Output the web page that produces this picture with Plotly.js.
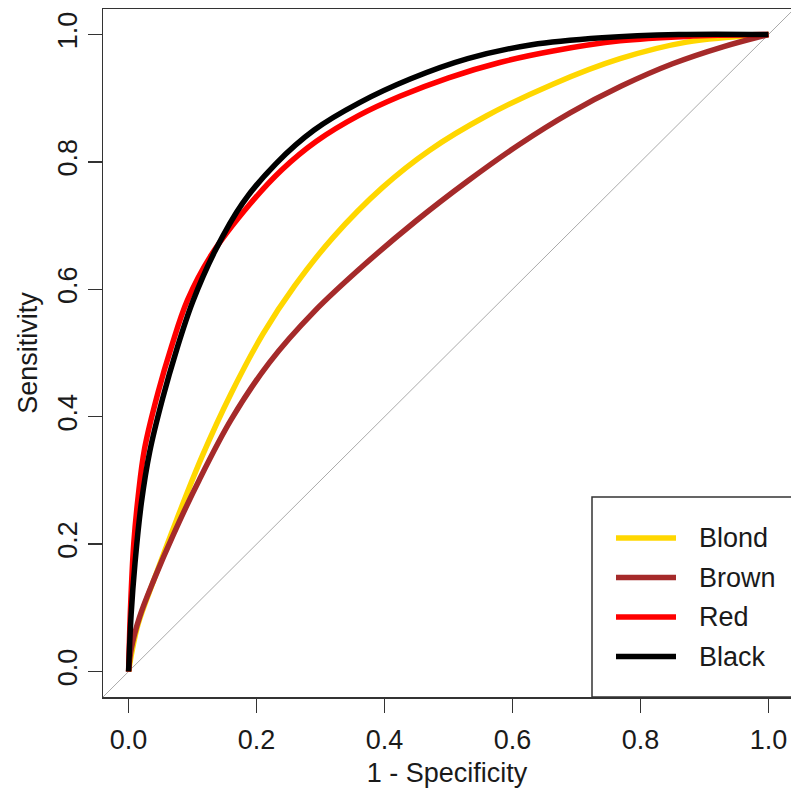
<!DOCTYPE html>
<html>
<head>
<meta charset="utf-8">
<script src="https://cdn.plot.ly/plotly-3.0.1.min.js"></script>
<style>html,body{margin:0;padding:0;background:#fff;}#chart{width:791px;height:792px;}</style>
</head>
<body>
<div id="chart"></div>
<script>
// ---- data ----
const seriesNames = ["Blond", "Brown", "Red", "Black"];
const seriesColors = ["#FFD700", "#A52A2A", "#FF0000", "#000000"];

const blondX = [0, 0.005, 0.015, 0.040, 0.075, 0.115, 0.160, 0.210, 0.260, 0.320, 0.397, 0.470, 0.559, 0.663, 0.768, 0.872, 1.0];
const blondY = [0, 0.030, 0.075, 0.145, 0.238, 0.338, 0.436, 0.530, 0.606, 0.682, 0.760, 0.818, 0.872, 0.922, 0.962, 0.988, 1.0];

const brownX = [0, 0.004, 0.017, 0.040, 0.070, 0.110, 0.160, 0.220, 0.290, 0.370, 0.450, 0.530, 0.610, 0.690, 0.770, 0.850, 0.930, 1.0];
const brownY = [0, 0.035, 0.085, 0.145, 0.215, 0.300, 0.395, 0.485, 0.565, 0.640, 0.708, 0.770, 0.827, 0.877, 0.919, 0.954, 0.981, 1.0];

const redX = [0, 0.003, 0.008, 0.015, 0.025, 0.046, 0.067, 0.092, 0.130, 0.189, 0.240, 0.293, 0.360, 0.424, 0.500, 0.580, 0.663, 0.768, 0.872, 1.0];
const redY = [0, 0.100, 0.200, 0.275, 0.350, 0.438, 0.510, 0.583, 0.655, 0.733, 0.788, 0.832, 0.873, 0.903, 0.932, 0.956, 0.974, 0.990, 0.997, 1.0];

const blackX = [0, 0.004, 0.010, 0.020, 0.033, 0.053, 0.075, 0.100, 0.135, 0.178, 0.230, 0.290, 0.361, 0.440, 0.530, 0.630, 0.740, 0.860, 1.0];
const blackY = [0, 0.090, 0.170, 0.265, 0.345, 0.428, 0.505, 0.580, 0.660, 0.735, 0.797, 0.850, 0.893, 0.930, 0.962, 0.984, 0.995, 1.0, 1.0];

const chanceLine = [-0.1, 1.1];
const tickVals = [0, 0.2, 0.4, 0.6, 0.8, 1.0];
const tickText = ["0.0", "0.2", "0.4", "0.6", "0.8", "1.0"];
const xTitle = "1 - Specificity";
const yTitle = "Sensitivity";

// ---- build ----
const FONT = "Liberation Sans, Arial, Helvetica, sans-serif";
const FS = 27;
const TXT = "#1a1a1a";
const FRAME = "#333333";

const xs = [blondX, brownX, redX, blackX];
const ys = [blondY, brownY, redY, blackY];

const traces = [{
  x: chanceLine, y: chanceLine, mode: "lines", type: "scatter",
  line: {color: "#aaaaaa", width: 1}, hoverinfo: "skip", showlegend: false
}];
seriesNames.forEach((n, i) => {
  traces.push({
    x: xs[i], y: ys[i], name: n, mode: "lines", type: "scatter",
    line: {color: seriesColors[i], width: 5.5, shape: "spline", smoothing: 1},
    showlegend: false
  });
});

// manual R-style legend (pixel layout converted to paper coords)
const L = 103, T = 9, PW = 688, PH = 688;
const px = v => (v - L) / PW;
const py = v => (T + PH - v) / PH;
const shapes = [{
  type: "rect", xref: "paper", yref: "paper",
  x0: px(592), x1: px(800), y0: py(697), y1: py(497),
  line: {color: FRAME, width: 1.5}, fillcolor: "#ffffff", layer: "above"
}];
const annotations = [];
const rowY = [538, 577.5, 617, 656.5];
seriesNames.forEach((n, i) => {
  shapes.push({
    type: "line", xref: "paper", yref: "paper",
    x0: px(616), x1: px(676), y0: py(rowY[i]), y1: py(rowY[i]),
    line: {color: seriesColors[i], width: 5.5}, layer: "above"
  });
  annotations.push({
    xref: "paper", yref: "paper", x: px(697), y: py(rowY[i]),
    xanchor: "left", yanchor: "middle", showarrow: false, text: n,
    font: {family: FONT, size: FS, color: TXT}
  });
});

const layout = {
  width: 791, height: 792,
  margin: {l: L, r: 0, t: T, b: 792 - T - PH, pad: 0},
  paper_bgcolor: "#ffffff", plot_bgcolor: "#ffffff",
  showlegend: false,
  font: {family: FONT, size: FS, color: TXT},
  xaxis: {
    range: [-0.04, 1.0352], tickvals: tickVals, ticktext: tickText,
    showgrid: false, zeroline: false, showline: true, mirror: true,
    linecolor: FRAME, linewidth: 1.5, ticks: "outside", ticklen: 14,
    tickwidth: 1.5, tickcolor: FRAME, ticklabelstandoff: 4,
    tickfont: {family: FONT, size: FS, color: TXT},
    title: {text: xTitle, font: {family: FONT, size: FS, color: TXT}, standoff: 9}
  },
  yaxis: {
    range: [-0.04, 1.04], tickvals: tickVals, ticktext: tickText,
    showgrid: false, zeroline: false, showline: true, mirror: false,
    linecolor: FRAME, linewidth: 1.5, ticks: "outside", ticklen: 14,
    tickwidth: 1.5, tickcolor: FRAME, tickangle: -90, ticklabelstandoff: 0,
    tickfont: {family: FONT, size: FS, color: TXT},
    title: {text: yTitle, font: {family: FONT, size: FS, color: TXT}, standoff: 7}
  },
  shapes: shapes,
  annotations: annotations
};

Plotly.newPlot("chart", traces, layout, {displayModeBar: false, staticPlot: true});
</script>
</body>
</html>
